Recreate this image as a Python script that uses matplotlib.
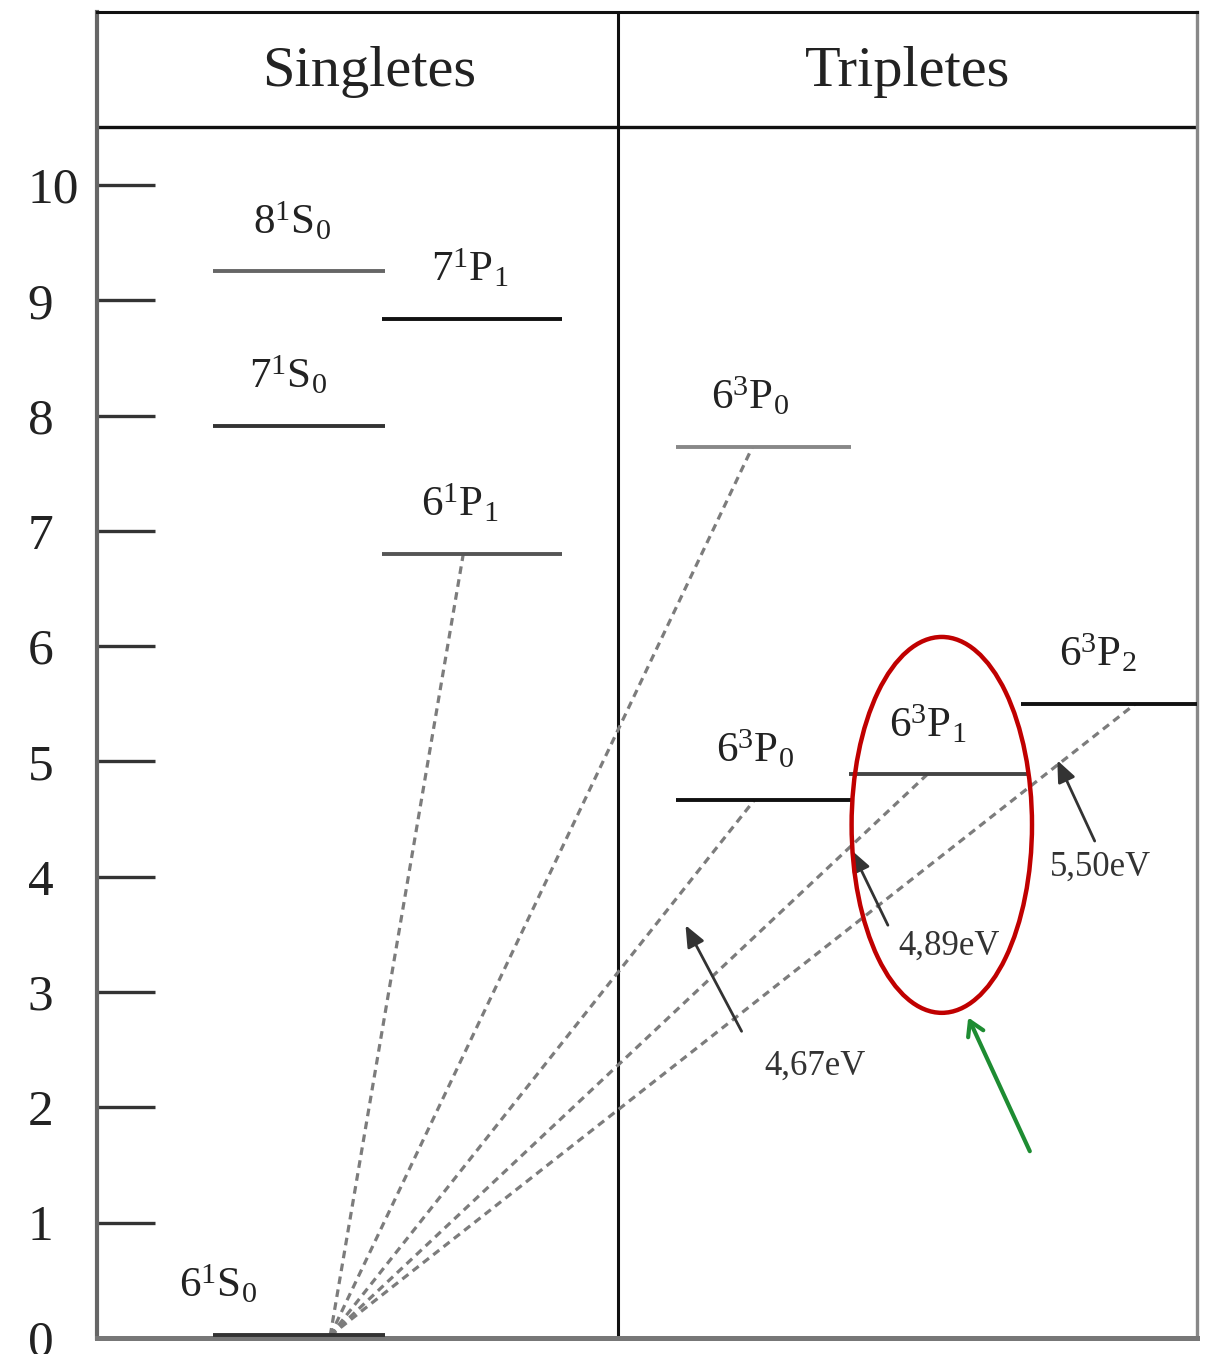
import matplotlib
matplotlib.use("Agg")
import matplotlib.pyplot as plt
from matplotlib.patches import Ellipse

plt.rcParams["font.family"] = ["Liberation Serif", "DejaVu Serif"]
plt.rcParams["mathtext.fontset"] = "custom"
plt.rcParams["mathtext.rm"] = "Liberation Serif"
plt.rcParams["mathtext.it"] = "Liberation Serif"

# energy levels (eV)
level_names = [r"$8^{1}\mathrm{S}_{0}$", r"$7^{1}\mathrm{P}_{1}$", r"$7^{1}\mathrm{S}_{0}$",
               r"$6^{1}\mathrm{P}_{1}$", r"$6^{3}\mathrm{P}_{0}$", r"$6^{3}\mathrm{P}_{0}$",
               r"$6^{3}\mathrm{P}_{1}$", r"$6^{3}\mathrm{P}_{2}$", r"$6^{1}\mathrm{S}_{0}$"]
level_energy = [9.25, 8.84, 7.91, 6.80, 7.73, 4.67, 4.89, 5.50, 0.03]
level_x0 = [10.5, 25.9, 10.5, 25.9, 52.6, 52.6, 68.4, 84.0, 10.5]
level_x1 = [26.2, 42.3, 26.2, 42.3, 68.5, 68.5, 84.8, 100.0, 26.2]
level_color = ["#666666", "#111111", "#333333", "#555555", "#888888",
               "#111111", "#444444", "#111111", "#333333"]
label_x = [17.7, 33.9, 17.4, 33.0, 59.4, 59.8, 75.5, 91.0, 11.0]

# transitions from the ground state: (index of level, x where the line ends)
trans_target = [3, 4, 5, 6, 7]
trans_end_x = [33.3, 59.6, 59.8, 75.5, 94.4]
ground_x = 21.2

# transition energy labels
ev_labels = ["4,67eV", "4,89eV", "5,50eV"]
ev_text_xy = [(65.3, 2.36), (77.5, 3.40), (91.2, 4.08)]
ev_tail = [(58.6, 2.66), (71.9, 3.58), (90.7, 4.31)]
ev_tip = [(53.5, 3.58), (68.6, 4.23), (87.3, 5.01)]

yticks = list(range(0, 11))

fig = plt.figure(figsize=(12.08, 13.54), dpi=100)
ax = fig.add_axes([97 / 1208, 16 / 1354, 1100 / 1208, 1326 / 1354])
ax.set_xlim(0, 100)
ax.set_ylim(0, 11.5)

ax.spines["left"].set_color("#666666")
ax.spines["left"].set_linewidth(3.0)
ax.spines["bottom"].set_color("#777777")
ax.spines["bottom"].set_linewidth(3.6)
ax.spines["right"].set_color("#888888")
ax.spines["right"].set_linewidth(2.4)
ax.spines["top"].set_color("#111111")
ax.spines["top"].set_linewidth(2.2)

ax.set_xticks([])
ax.set_yticks(yticks)
ax.set_yticklabels([str(v) for v in yticks], fontsize=37, color="#222222", ha="left")
ax.tick_params(axis="y", direction="in", length=42, width=2.4, color="#333333", pad=50)

# header row and column divider
ax.axhline(10.5, color="#111111", lw=2.4)
ax.axvline(47.4, color="#111111", lw=2.2)
ax.text(24.7, 10.98, "Singletes", ha="center", va="center", fontsize=42, color="#222222")
ax.text(73.7, 10.98, "Tripletes", ha="center", va="center", fontsize=42, color="#222222")

# dashed transition lines
for idx, xe in zip(trans_target, trans_end_x):
    ax.plot([ground_x, xe], [0.02, level_energy[idx]], color="#7c7c7c", lw=2.3,
            linestyle=(0, (2.4, 1.7)), zorder=2)

# levels and their labels
for name, e, x0, x1, c, lx in zip(level_names, level_energy, level_x0, level_x1,
                                  level_color, label_x):
    ax.plot([x0, x1], [e, e], color=c, lw=2.8, solid_capstyle="butt", zorder=3,
            clip_on=False)
    ax.text(lx, e + 0.43, name, ha="center", va="center", fontsize=31, color="#222222")

# energy arrows
for lab, txy, tail, tip in zip(ev_labels, ev_text_xy, ev_tail, ev_tip):
    ax.annotate("", xy=tip, xytext=tail,
                arrowprops=dict(arrowstyle="-|>,head_length=1.3,head_width=0.55",
                                color="#333333", lw=2.0, shrinkA=0, shrinkB=0))
    ax.text(txy[0], txy[1], lab, ha="center", va="center", fontsize=25, color="#333333")

# highlight around 6^3P1
ax.add_patch(Ellipse((76.8, 4.45), 16.4, 3.26, fill=False, edgecolor="#c00000", lw=3.2,
                     zorder=5))
ax.annotate("", xy=(79.2, 2.78), xytext=(84.8, 1.62),
            arrowprops=dict(arrowstyle="->,head_length=1.0,head_width=0.6",
                            color="#1e8c32", lw=3.0, shrinkA=0, shrinkB=0))

fig.savefig("out.png", dpi=100)
